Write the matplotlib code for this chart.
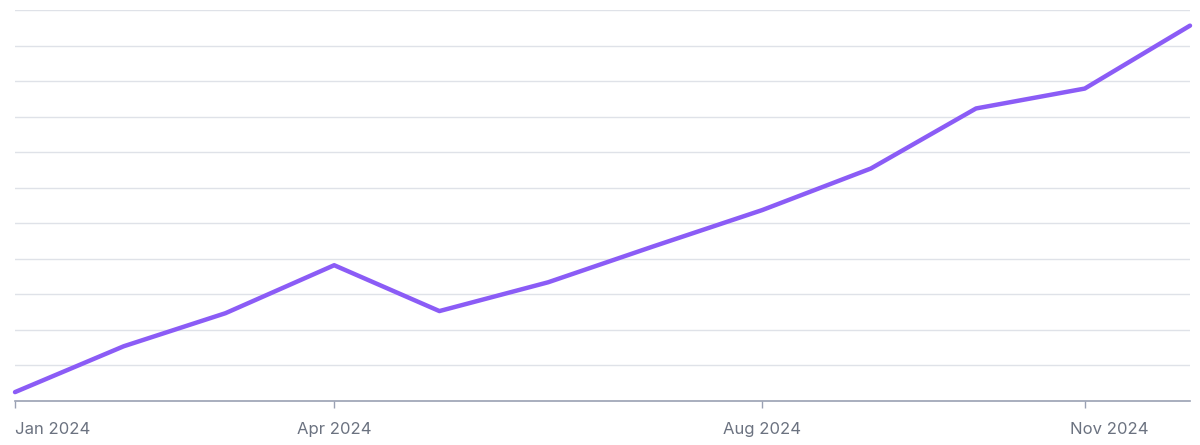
import matplotlib
matplotlib.use('Agg')
from matplotlib import pyplot as plt
import matplotlib.transforms as mtransforms
import pandas as pd

# monthly values
months = pd.date_range('2024-01-01', '2024-12-01', freq='MS')
values = [2.5, 15.4, 24.7, 38.2, 25.3, 33.4, 43.5, 53.7, 65.4, 82.3, 87.9, 105.6]
tick_dates = pd.to_datetime(['2024-01-01', '2024-04-01', '2024-08-01', '2024-11-01'])
tick_labels = ['Jan 2024', 'Apr 2024', 'Aug 2024', 'Nov 2024']

plt.rcParams['font.family'] = ['Inter', 'DejaVu Sans']

fig = plt.figure(figsize=(12, 4.45), dpi=100)
ax = fig.add_axes([15 / 1200, 44 / 445, 1175 / 1200, 391 / 445])

ax.plot(months, values, color='#8b5cf6', linewidth=3.2, solid_capstyle='round',
        solid_joinstyle='round', clip_on=False, zorder=3)

ax.set_ylim(0, 110)
ax.set_xlim(months[0], months[-1])
ax.set_yticks(range(10, 111, 10))
ax.yaxis.grid(True, color='#dfe2e8', linewidth=1.0)
ax.tick_params(axis='y', length=0, labelleft=False)

ax.set_xticks(tick_dates)
ax.set_xticklabels(tick_labels)
ax.tick_params(axis='x', length=5, width=1, color='#9aa1b3', labelcolor='#6b7280',
               labelsize=12, pad=10)

for sp in ['top', 'right', 'left']:
    ax.spines[sp].set_visible(False)
ax.spines['bottom'].set_color('#9aa1b3')
ax.spines['bottom'].set_linewidth(1.2)

# first label sits to the right of its tick, last one nudged right
labels = ax.get_xticklabels()
labels[0].set_horizontalalignment('left')
labels[-1].set_transform(labels[-1].get_transform() +
                         mtransforms.ScaledTranslation(25 / 100, 0, fig.dpi_scale_trans))

plt.savefig('out.png', dpi=100)
